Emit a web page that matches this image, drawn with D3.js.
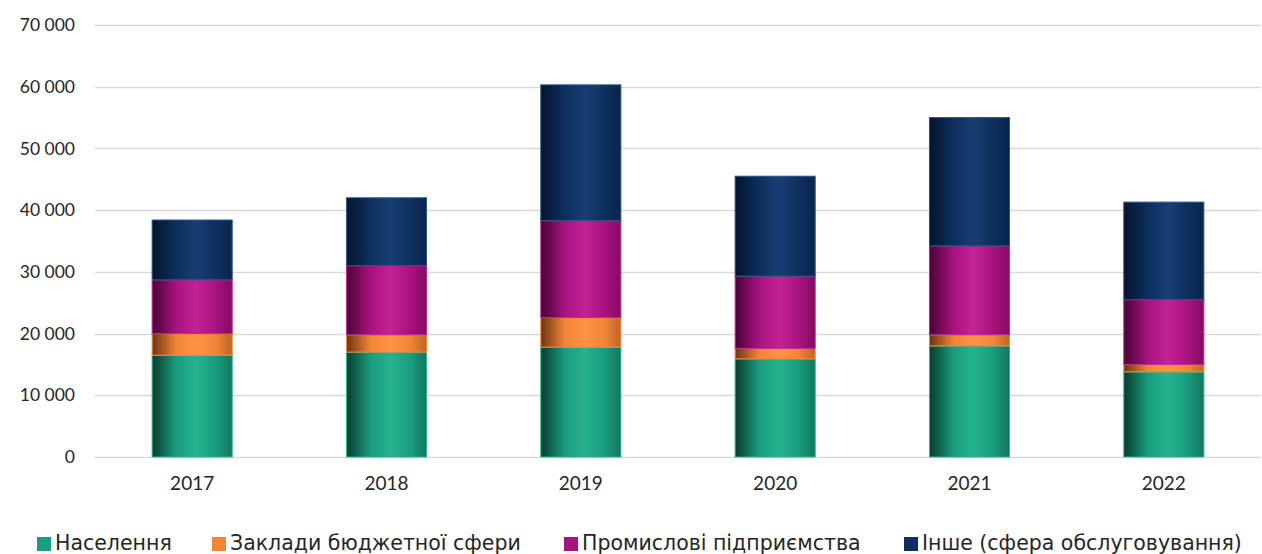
<!DOCTYPE html>
<html>
<head>
<meta charset="utf-8">
<script src="https://cdn.jsdelivr.net/npm/d3@7"></script>
<style>
  html, body { margin: 0; padding: 0; background: #fff; }
  svg { display: block; font-family: "Lato", "Open Sans", sans-serif; }
</style>
</head>
<body>
<svg id="chart" width="1262" height="554"></svg>
<script>
// Annual consumption by consumer group
const years = ["2017", "2018", "2019", "2020", "2021", "2022"];
const population = [16500, 17000, 17800, 15900, 18000, 13800];
const budgetSector = [3500, 2800, 4800, 1700, 1800, 1200];
const industry = [8700, 11200, 15700, 11700, 14400, 10500];
const other = [9700, 11000, 22000, 16200, 20800, 15800];
const seriesNames = ["Населення", "Заклади бюджетної сфери", "Промислові підприємства", "Інше (сфера обслуговування)"];
const yTicks = [0, 10000, 20000, 30000, 40000, 50000, 60000, 70000];

const palette = [
  { key: "pop", base: "#1a9c7e", dark: "#083c2f", light: "#25b38f", edge: "#2bb592" },
  { key: "bud", base: "#f08538", dark: "#6e3410", light: "#ff9447", edge: "#f5893a" },
  { key: "ind", base: "#a8127f", dark: "#4a0336", light: "#c42295", edge: "#c02894" },
  { key: "oth", base: "#0e2f5e", dark: "#04142b", light: "#173e73", edge: "#2a568e" }
];

const table = years.map((y, i) => ({
  year: y,
  pop: population[i], bud: budgetSector[i], ind: industry[i], oth: other[i]
}));

const svg = d3.select("#chart");
const margin = { left: 95, right: 1, top: 25, bottom: 97 };
const W = 1262, H = 554;

const x = d3.scaleBand().domain(years).range([margin.left, W - margin.right]).paddingInner(0.588).paddingOuter(0.294);
const y = d3.scaleLinear().domain([0, 70000]).range([H - margin.bottom, margin.top]);

// Cylinder-like horizontal shading for each series
const defs = svg.append("defs");
palette.forEach(p => {
  const g = defs.append("linearGradient").attr("id", "grad-" + p.key)
    .attr("x1", "0%").attr("x2", "100%").attr("y1", "0%").attr("y2", "0%");
  g.append("stop").attr("offset", "0%").attr("stop-color", p.dark);
  g.append("stop").attr("offset", "30%").attr("stop-color", p.base);
  g.append("stop").attr("offset", "55%").attr("stop-color", p.light);
  g.append("stop").attr("offset", "80%").attr("stop-color", p.base);
  g.append("stop").attr("offset", "100%").attr("stop-color", d3.interpolateRgb(p.dark, p.base)(0.6));
});

// Gridlines
svg.append("g").selectAll("line").data(yTicks).join("line")
  .attr("x1", margin.left).attr("x2", W - margin.right)
  .attr("y1", d => Math.round(y(d)) + 0.5).attr("y2", d => Math.round(y(d)) + 0.5)
  .attr("stroke", "#d9d9d9").attr("stroke-width", 1.5);

// Y axis labels
const fmt = v => d3.format(",")(v).replace(/,/g, " ");
svg.append("g").selectAll("text").data(yTicks).join("text")
  .attr("x", 75).attr("y", d => y(d))
  .attr("dy", "0.35em").attr("text-anchor", "end")
  .attr("font-size", 17.5).attr("fill", "#262626")
  .text(fmt);

// Stacked bars
const stack = d3.stack().keys(palette.map(p => p.key));
const layers = stack(table);
svg.append("g").selectAll("g").data(layers).join("g")
  .each(function(layer, li) {
    const p = palette[li];
    d3.select(this).selectAll("rect").data(layer).join("rect")
      .attr("x", d => x(d.data.year))
      .attr("width", x.bandwidth())
      .attr("y", d => y(d[1]))
      .attr("height", d => y(d[0]) - y(d[1]))
      .attr("fill", `url(#grad-${p.key})`)
      .attr("stroke", p.edge).attr("stroke-width", 1);
  });

// X axis labels
svg.append("g").selectAll("text").data(years).join("text")
  .attr("x", d => x(d) + x.bandwidth() / 2).attr("y", 483)
  .attr("dy", "0.35em").attr("text-anchor", "middle")
  .attr("font-size", 19).attr("fill", "#262626")
  .text(d => d);

// Legend
const legendX = [37, 212, 564, 904];
const legend = svg.append("g").selectAll("g").data(seriesNames).join("g")
  .attr("transform", (d, i) => `translate(${legendX[i]},0)`);
legend.append("rect").attr("x", 0).attr("y", 537).attr("width", 14).attr("height", 14)
  .attr("fill", (d, i) => palette[i].base);
legend.append("text").attr("x", 18).attr("y", 550)
  .attr("font-family", "'DejaVu Sans', sans-serif")
  .attr("font-size", 20.5).attr("fill", "#262626")
  .text(d => d);
</script>
</body>
</html>
